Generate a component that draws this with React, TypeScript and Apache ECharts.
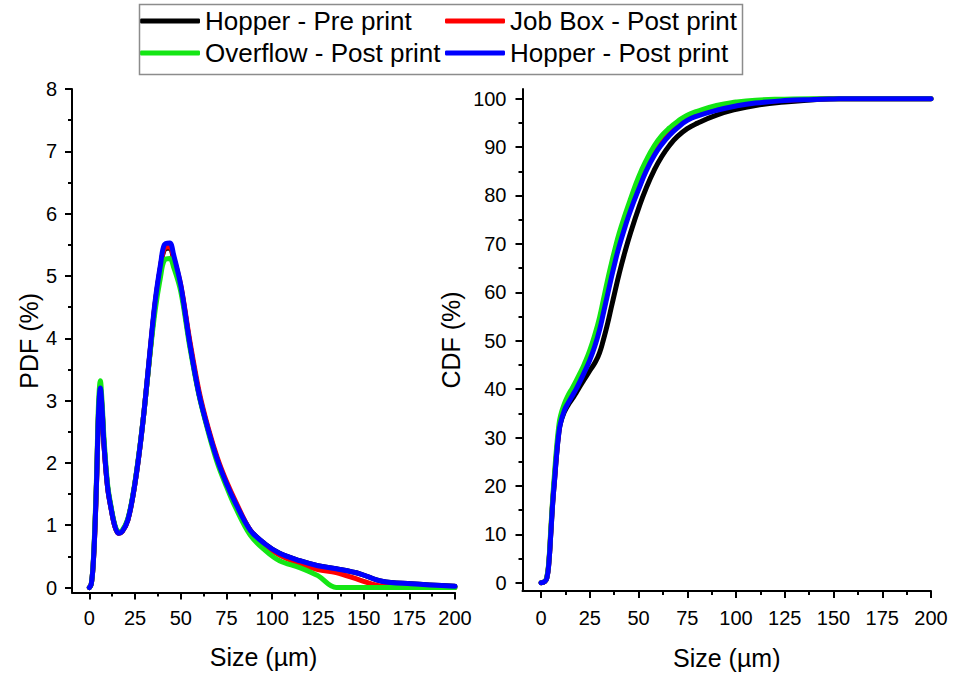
import React, { useEffect, useRef } from "react";
import * as echarts from "echarts";

const seriesNames = [
  "Hopper - Pre print",
  "Job Box - Post print",
  "Overflow - Post print",
  "Hopper - Post print",
];
const seriesColors = ["#000000", "#ff0000", "#14e614", "#0000ff"];

// PDF (%) vs size (µm)
const xPdf = [0, 1, 2, 3, 4, 5, 6, 7, 8, 10, 12, 14, 16, 18, 21, 24, 27, 30, 33, 36, 39, 41, 44, 46, 50, 55, 60, 65, 70, 75, 80, 88, 96, 104, 115, 125, 135, 148, 160, 176, 200];
const pdfHopperPre = [0, 0.05, 0.33, 0.9, 1.75, 2.75, 3.15, 2.82, 2.28, 1.6, 1.25, 0.98, 0.87, 0.9, 1.08, 1.5, 2.1, 2.85, 3.72, 4.56, 5.16, 5.42, 5.45, 5.28, 4.82, 3.9, 3.1, 2.53, 2.05, 1.67, 1.35, 0.92, 0.7, 0.55, 0.43, 0.35, 0.3, 0.22, 0.1, 0.06, 0.02];
const pdfJobBoxPost = [0, 0.05, 0.33, 0.92, 1.78, 2.8, 3.18, 2.85, 2.3, 1.6, 1.25, 0.98, 0.87, 0.9, 1.08, 1.5, 2.1, 2.85, 3.72, 4.55, 5.15, 5.44, 5.47, 5.3, 4.85, 3.95, 3.15, 2.56, 2.08, 1.7, 1.38, 0.92, 0.68, 0.52, 0.38, 0.29, 0.24, 0.12, 0.02, 0.01, 0];
const pdfOverflowPost = [0, 0.05, 0.35, 1.0, 1.85, 2.95, 3.32, 2.95, 2.4, 1.65, 1.28, 1.0, 0.89, 0.92, 1.1, 1.52, 2.12, 2.85, 3.7, 4.45, 5.0, 5.25, 5.28, 5.15, 4.75, 3.85, 3.08, 2.5, 2.0, 1.62, 1.28, 0.84, 0.6, 0.43, 0.32, 0.19, 0, 0, 0, 0, 0];
const pdfHopperPost = [0, 0.05, 0.33, 0.92, 1.78, 2.8, 3.2, 2.85, 2.3, 1.6, 1.25, 0.98, 0.87, 0.9, 1.08, 1.5, 2.1, 2.85, 3.75, 4.6, 5.2, 5.5, 5.53, 5.35, 4.85, 3.9, 3.1, 2.53, 2.05, 1.67, 1.35, 0.92, 0.7, 0.55, 0.43, 0.35, 0.3, 0.22, 0.1, 0.06, 0.02];

// CDF (%) vs size (µm)
const xCdf = [0, 2, 3, 4, 5, 6, 7, 8, 9, 10, 12, 14, 16, 18, 20, 22, 25, 28, 30, 32, 34, 36, 38, 40, 43, 46, 50, 54, 58, 62, 66, 70, 75, 80, 90, 100, 110, 125, 140, 150, 160, 200];
const cdfHopperPre = [0, 0.3, 1, 4, 10, 16.5, 21.5, 26.5, 30.5, 33, 35.3, 36.8, 38, 39.2, 40.6, 41.9, 43.8, 45.7, 47.5, 50.2, 53.3, 56.8, 60.3, 63.7, 68.3, 72.4, 77.3, 81.6, 85.2, 88.1, 90.4, 92.2, 93.8, 94.9, 96.6, 97.8, 98.6, 99.3, 99.8, 100, 100, 100];
const cdfJobBoxPost = [0, 0.3, 1.1, 4.2, 10.5, 17, 22, 27, 31, 33.6, 36.1, 37.8, 39.2, 40.6, 42.2, 43.9, 46.7, 50.1, 53, 56.5, 60.2, 63.8, 67.2, 70.3, 74.3, 77.9, 82.2, 85.9, 88.9, 91.2, 93, 94.5, 95.9, 96.8, 98, 98.8, 99.3, 99.7, 99.9, 100, 100, 100];
const cdfOverflowPost = [0, 0.3, 1.2, 4.5, 11, 17.5, 23, 28, 32, 34.5, 37, 38.8, 40.2, 41.7, 43.3, 45, 48, 51.8, 54.8, 58.5, 62.3, 65.8, 69.1, 72.1, 75.9, 79.4, 83.8, 87.3, 90.2, 92.4, 94, 95.3, 96.6, 97.4, 98.6, 99.3, 99.7, 99.9, 100, 100, 100, 100];
const cdfHopperPost = [0, 0.3, 1, 4, 10, 16.5, 21.5, 26.5, 30.5, 33, 35.6, 37.2, 38.6, 40, 41.6, 43.3, 46, 49.4, 52.2, 55.7, 59.3, 62.9, 66.3, 69.4, 73.4, 77, 81.2, 85.1, 88.2, 90.6, 92.5, 94, 95.5, 96.4, 97.6, 98.5, 99.1, 99.6, 99.85, 99.95, 100, 100];

// Tick values
const sizeMajorTicks = [0, 25, 50, 75, 100, 125, 150, 175, 200];
const sizeMinorTicks = [12.5, 37.5, 62.5, 87.5, 112.5, 137.5, 162.5, 187.5];
const pdfMajorTicks = [0, 1, 2, 3, 4, 5, 6, 7, 8];
const pdfMinorTicks = [0.5, 1.5, 2.5, 3.5, 4.5, 5.5, 6.5, 7.5];
const cdfMajorTicks = [0, 10, 20, 30, 40, 50, 60, 70, 80, 90, 100];
const cdfMinorTicks = [5, 15, 25, 35, 45, 55, 65, 75, 85, 95];

const pdfSeries = [pdfHopperPre, pdfJobBoxPost, pdfOverflowPost, pdfHopperPost];
const cdfSeries = [cdfHopperPre, cdfJobBoxPost, cdfOverflowPost, cdfHopperPost];

const FONT = "Liberation Sans";

function majorAxis(opts: any) {
  return {
    type: "value",
    gridIndex: opts.grid,
    min: opts.min,
    max: opts.max,
    position: opts.position,
    name: opts.name,
    nameLocation: "middle",
    nameGap: opts.nameGap,
    nameTextStyle: { fontFamily: FONT, fontSize: 25, color: "#000" },
    axisLine: { show: true, onZero: false, lineStyle: { color: "#000", width: 2 } },
    axisTick: { show: true, inside: false, length: 7, customValues: opts.ticks, lineStyle: { color: "#000", width: 2 } },
    axisLabel: { show: true, customValues: opts.ticks, margin: opts.margin, fontFamily: FONT, fontSize: 20, color: "#000" },
    splitLine: { show: false },
    minorTick: { show: false },
  };
}

function minorAxis(opts: any) {
  return {
    type: "value",
    gridIndex: opts.grid,
    min: opts.min,
    max: opts.max,
    position: opts.position,
    axisLine: { show: false, onZero: false },
    axisTick: { show: true, inside: false, length: 4, customValues: opts.ticks, lineStyle: { color: "#000", width: 2 } },
    axisLabel: { show: false },
    splitLine: { show: false },
  };
}

export default function App() {
  const ref = useRef<HTMLDivElement>(null);

  useEffect(() => {
    if (!ref.current) return;
    const chart = echarts.init(ref.current, null, { renderer: "svg" });

    const series: any[] = [];
    seriesNames.forEach((name, i) => {
      series.push({
        type: "line",
        name,
        xAxisIndex: 0,
        yAxisIndex: 0,
        data: xPdf.map((x, k) => [x, pdfSeries[i][k]]),
        showSymbol: false,
        symbol: "none",
        smooth: 0.35,
        lineStyle: { color: seriesColors[i], width: 5, cap: "round", join: "round" },
        itemStyle: { color: seriesColors[i] },
        z: 2 + i,
      });
    });
    seriesNames.forEach((name, i) => {
      series.push({
        type: "line",
        name,
        xAxisIndex: 1,
        yAxisIndex: 1,
        data: xCdf.map((x, k) => [x, cdfSeries[i][k]]),
        showSymbol: false,
        symbol: "none",
        smooth: 0.5,
        lineStyle: { color: seriesColors[i], width: 5, cap: "round", join: "round" },
        itemStyle: { color: seriesColors[i] },
        z: 2 + i,
      });
    });

    const legendCommon = {
      orient: "vertical",
      top: 8,
      padding: 0,
      itemWidth: 60,
      itemHeight: 5,
      itemGap: 6,
      icon: "roundRect",
      selectedMode: false,
      textStyle: { fontFamily: FONT, fontSize: 26, color: "#000", lineHeight: 26 },
    };

    chart.setOption({
      animation: false,
      backgroundColor: "#ffffff",
      grid: [
        { left: 72, top: 89, width: 383, height: 503.5, containLabel: false, outerBoundsMode: "none" },
        { left: 522.5, top: 89, width: 408.5, height: 502, containLabel: false, outerBoundsMode: "none" },
      ],
      xAxis: [
        majorAxis({ grid: 0, min: -9.5, max: 200, position: "bottom", name: "Size (µm)", nameGap: 52, ticks: sizeMajorTicks, margin: 15 }),
        majorAxis({ grid: 1, min: -9.5, max: 200, position: "bottom", name: "Size (µm)", nameGap: 54, ticks: sizeMajorTicks, margin: 17 }),
        minorAxis({ grid: 0, min: -9.5, max: 200, position: "bottom", ticks: sizeMinorTicks }),
        minorAxis({ grid: 1, min: -9.5, max: 200, position: "bottom", ticks: sizeMinorTicks }),
      ],
      yAxis: [
        majorAxis({ grid: 0, min: -0.08, max: 8, position: "left", name: "PDF (%)", nameGap: 31, ticks: pdfMajorTicks, margin: 15 }),
        majorAxis({ grid: 1, min: -1.7, max: 102, position: "left", name: "CDF (%)", nameGap: 59, ticks: cdfMajorTicks, margin: 16 }),
        minorAxis({ grid: 0, min: -0.08, max: 8, position: "left", ticks: pdfMinorTicks }),
        minorAxis({ grid: 1, min: -1.7, max: 102, position: "left", ticks: cdfMinorTicks }),
      ],
      legend: [
        { ...legendCommon, left: 140, data: [seriesNames[0], seriesNames[2]] },
        { ...legendCommon, left: 445, data: [seriesNames[1], seriesNames[3]] },
      ],
      graphic: [
        {
          type: "rect",
          left: 137,
          top: 2,
          shape: { width: 603, height: 70 },
          style: { fill: "none", stroke: "#8c8c8c", lineWidth: 1.5 },
          z: 10,
        },
      ],
      series,
    });

    return () => chart.dispose();
  }, []);

  return (
    <div
      ref={ref}
      style={{ position: "absolute", left: 0, top: 0, width: 955, height: 676 }}
    />
  );
}
